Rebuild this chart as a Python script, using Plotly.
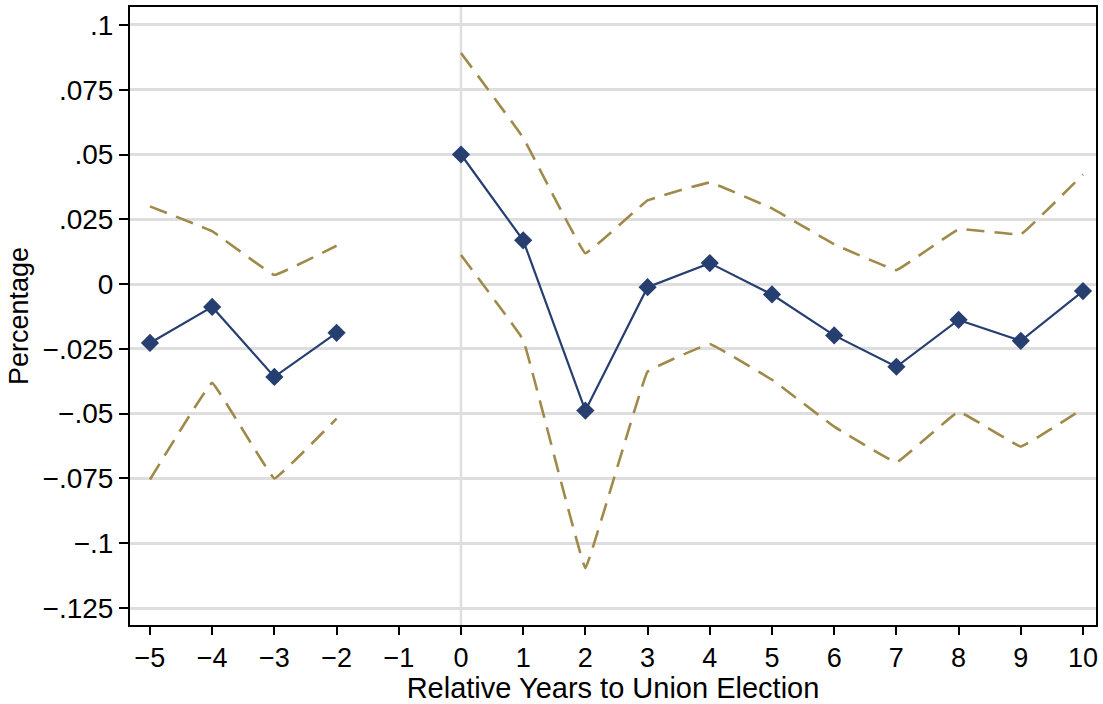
import plotly.graph_objects as go

years_pre = [-5, -4, -3, -2]
years_post = [0, 1, 2, 3, 4, 5, 6, 7, 8, 9, 10]

est_pre = [-0.0227, -0.0088, -0.0358, -0.0188]
est_post = [0.050, 0.0169, -0.0488, -0.0012, 0.0081, -0.0040, -0.0198, -0.0319, -0.0138, -0.0219, -0.0027]

upper_pre = [0.0300, 0.0204, 0.0035, 0.0148]
upper_post = [0.0892, 0.0565, 0.0119, 0.0323, 0.0392, 0.0292, 0.0154, 0.0054, 0.0212, 0.0192, 0.0423]

lower_pre = [-0.0754, -0.0381, -0.0750, -0.0519]
lower_post = [0.0112, -0.0215, -0.1096, -0.0338, -0.0231, -0.0369, -0.0550, -0.0688, -0.0492, -0.0627, -0.0481]

ytick_vals = [0.1, 0.075, 0.05, 0.025, 0, -0.025, -0.05, -0.075, -0.1, -0.125]
ytick_text = [".1", ".075", ".05", ".025", "0", "\u2212.025", "\u2212.05", "\u2212.075", "\u2212.1", "\u2212.125"]
xtick_vals = list(range(-5, 11))
xtick_text = [("\u2212" + str(-v)) if v < 0 else str(v) for v in xtick_vals]

NAVY = "#263f70"
SAND = "#a08a4a"

fig = go.Figure()

for xs, ys in [(years_pre, upper_pre), (years_pre, lower_pre), (years_post, upper_post), (years_post, lower_post)]:
    fig.add_trace(go.Scatter(x=xs, y=ys, mode="lines",
                             line=dict(color=SAND, width=2.6, dash="18px,10px", shape="spline", smoothing=0.15),
                             showlegend=False, hoverinfo="skip"))

for xs, ys in [(years_pre, est_pre), (years_post, est_post)]:
    fig.add_trace(go.Scatter(x=xs, y=ys, mode="lines+markers",
                             line=dict(color=NAVY, width=2.2),
                             marker=dict(symbol="diamond", size=14, color=NAVY),
                             showlegend=False))

fig.add_shape(type="line", x0=0, x1=0, y0=0, y1=1, xref="x", yref="paper",
              line=dict(color="#dedede", width=2.5), layer="below")

fig.update_layout(
    width=1103, height=704,
    margin=dict(l=130, r=5, t=5, b=79),
    paper_bgcolor="white", plot_bgcolor="white",
    font=dict(family="Liberation Sans, Arial, sans-serif", size=27, color="black"),
    xaxis=dict(range=[-5.321, 10.209], tickvals=xtick_vals, ticktext=xtick_text,
               showgrid=False, zeroline=False, showline=True, linecolor="black", linewidth=2,
               mirror=True, ticks="outside", ticklen=8, tickwidth=2, tickcolor="black",
               title=dict(text="Relative Years to Union Election", font=dict(size=29), standoff=3),
               tickfont=dict(size=27)),
    yaxis=dict(range=[-0.13154, 0.10692], tickvals=ytick_vals, ticktext=ytick_text,
               showgrid=True, gridcolor="#dedede", gridwidth=2.5, zeroline=False,
               showline=True, linecolor="black", linewidth=2, mirror=True,
               ticks="outside", ticklen=9, tickwidth=2, tickcolor="black",
               title=dict(text="Percentage", font=dict(size=27), standoff=6),
               tickfont=dict(size=28)),
)

fig.write_html("out.html")
